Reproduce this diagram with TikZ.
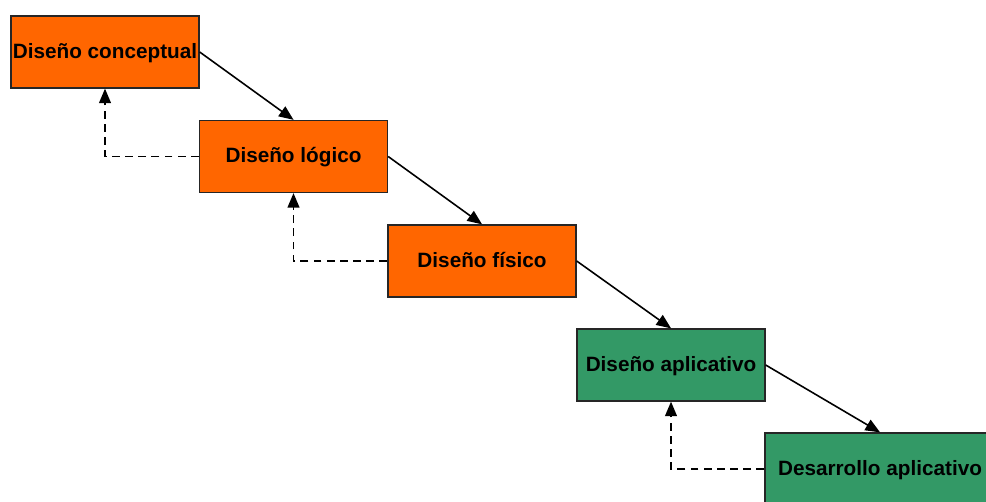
\documentclass[tikz,border=0pt]{standalone}
\usepackage{fontspec}
\setmainfont{Liberation Sans}
\usetikzlibrary{arrows,positioning}
\definecolor{naranja}{HTML}{FF6600}
\definecolor{verde}{HTML}{339966}

\begin{document}
\begin{tikzpicture}[x=0.02cm,y=-0.02cm,>=triangle 45,
    fase/.style={draw=black!85,line width=0.8pt,minimum width=3.76cm,minimum height=1.44cm,inner sep=0pt,text height=0.72em,text depth=0pt,font=\fontsize{11.8}{14}\selectfont\bfseries},
    avance/.style={->,line width=0.9pt},
    retorno/.style={->,dash pattern=on 4.5pt off 3pt,line width=0.9pt}]
\clip (0,0) rectangle (986,501);

\coordinate (c1) at (105,52);
\coordinate (c2) at (293.5,156.5);
\coordinate (c3) at (482,261);
\coordinate (c4) at (671,365);
\coordinate (c5) at (880,469);

\node (l1) at (c1) [fase,fill=naranja] {Diseño conceptual};
\node (l2) at (c2) [fase,fill=naranja] {Diseño lógico};
\node (l3) at (c3) [fase,fill=naranja] {Diseño físico};
\node (l4) at (c4) [fase,fill=verde] {Diseño aplicativo};
\node (l5) at (c5) [fase,fill=verde,minimum width=4.6cm] {Desarrollo aplicativo};

\foreach \x/\y in {1/2,2/3,3/4,4/5} {
\draw[avance] (l\x.east) -- (l\y.north);
};
\foreach \x/\y in {1/2,2/3,4/5} {
\draw[retorno] (l\y.west) -| (l\x.south);
};
\end{tikzpicture}
\end{document}
